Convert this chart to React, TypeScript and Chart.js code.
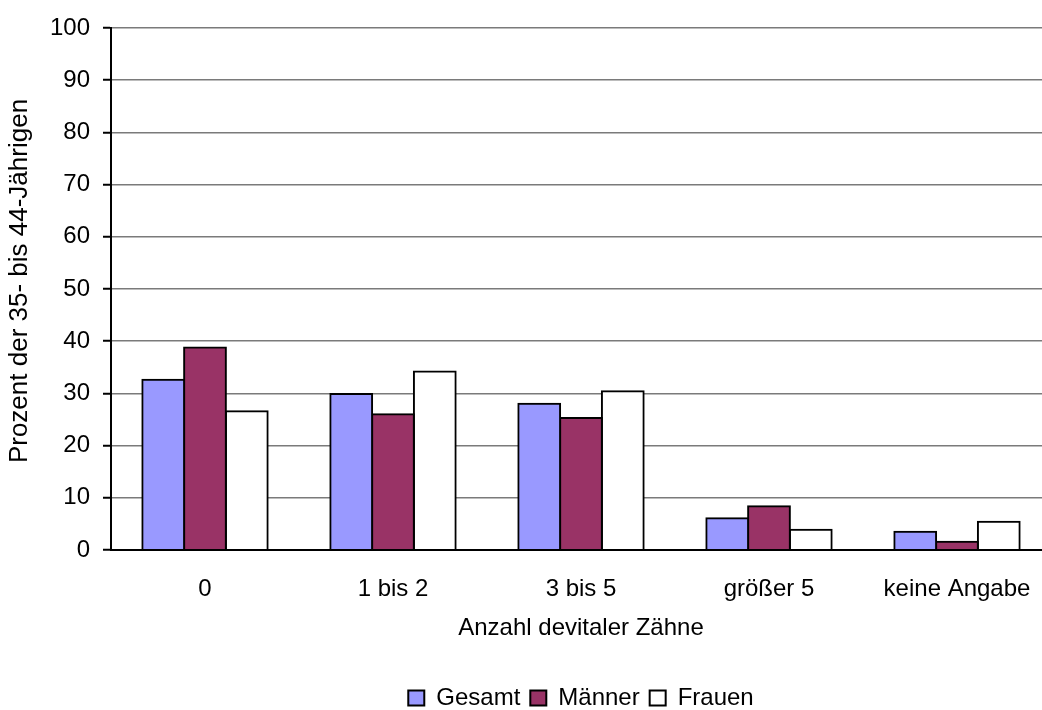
import React, { useEffect, useRef } from "react";
import { Chart, registerables } from "chart.js";

Chart.register(...registerables);

const categories = ["0", "1 bis 2", "3 bis 5", "größer 5", "keine Angabe"];
const gesamt = [32.6, 29.9, 28.0, 6.1, 3.5];
const maenner = [38.8, 26.0, 25.3, 8.4, 1.6];
const frauen = [26.6, 34.2, 30.4, 3.9, 5.4];

const yTitle = "Prozent der 35- bis 44-Jährigen";
const xTitle = "Anzahl devitaler Zähne";

const FONT = '"Liberation Sans", Arial, sans-serif';

// Centre the legend row under the plot area and place it near the bottom edge.
const legendPlacement = {
  id: "legendPlacement",
  afterLayout(chart: any) {
    const lg = chart.legend;
    const ca = chart.chartArea;
    if (!lg || !ca) return;
    const pad = lg.options.labels.padding;
    const size = lg.options.labels.font.size;
    const h = lg.height;
    lg.left = ca.left;
    lg.right = ca.right;
    lg.width = ca.right - ca.left;
    lg.top = 698 - size / 2 - pad;
    lg.bottom = lg.top + h;
  },
};

// Rotated value-axis caption, sitting slightly above the plot's vertical middle.
const yCaption = {
  id: "yCaption",
  afterDraw(chart: any) {
    const ca = chart.chartArea;
    const ctx = chart.ctx;
    ctx.save();
    ctx.translate(20, (ca.top + ca.bottom) / 2 - 8);
    ctx.rotate(-Math.PI / 2);
    ctx.font = `26px ${FONT}`;
    ctx.fillStyle = "#000";
    ctx.textAlign = "center";
    ctx.textBaseline = "middle";
    ctx.fillText(yTitle, 0, 0);
    ctx.restore();
  },
};

export default function App() {
  const canvasRef = useRef<HTMLCanvasElement | null>(null);

  useEffect(() => {
    if (!canvasRef.current) return;
    Chart.defaults.font.family = FONT;
    Chart.defaults.color = "#000";

    // Bars are pushed out by 1px on each bordered side so that neighbouring
    // bars share a single 2px outline.
    const common = {
      borderColor: "#000",
      borderWidth: 2,
      inflateAmount: 1,
      categoryPercentage: 3 / 4.5,
      barPercentage: 1.0,
    };

    const chart = new Chart(canvasRef.current, {
      type: "bar",
      data: {
        labels: categories,
        datasets: [
          { label: "Gesamt", data: gesamt, backgroundColor: "#9999FF", ...common },
          { label: "Männer", data: maenner, backgroundColor: "#993366", ...common },
          { label: "Frauen", data: frauen, backgroundColor: "#FFFFFF", ...common },
        ],
      },
      options: {
        animation: false,
        responsive: true,
        maintainAspectRatio: false,
        layout: { padding: { top: 28, right: 9, left: 0, bottom: 0 } },
        plugins: {
          tooltip: { enabled: false },
          legend: {
            position: "bottom",
            labels: {
              font: { size: 24 },
              boxWidth: 16,
              boxHeight: 15,
              padding: 10,
              color: "#000",
            },
          },
        },
        scales: {
          x: {
            grid: { display: false, drawTicks: false },
            border: { display: true, color: "#000", width: 2, z: 1 },
            ticks: { font: { size: 24 }, padding: 25, color: "#000", maxRotation: 0 },
            title: {
              display: true,
              text: xTitle,
              font: { size: 24 },
              color: "#000",
              padding: { top: 0, bottom: 23 },
            },
            afterFit: (scale: any) => {
              scale.height = 116;
            },
          },
          y: {
            min: 0,
            max: 100,
            ticks: { stepSize: 10, font: { size: 24 }, padding: 13, color: "#000" },
            grid: {
              color: "#7a7a7a",
              lineWidth: 1.5,
              drawTicks: true,
              tickLength: 8,
              tickColor: "#000",
              tickWidth: 2,
            },
            border: { display: true, color: "#000", width: 2, z: 1 },
            title: { display: false },
            afterFit: (scale: any) => {
              scale.width = 111;
            },
          },
        },
      },
      plugins: [legendPlacement, yCaption],
    });
    return () => chart.destroy();
  }, []);

  return (
    <div
      style={{
        position: "absolute",
        left: 0,
        top: 0,
        width: 1042,
        height: 710,
        overflow: "hidden",
        background: "#fff",
      }}
    >
      <div style={{ position: "relative", width: 1060, height: 710 }}>
        <canvas ref={canvasRef} />
      </div>
    </div>
  );
}
